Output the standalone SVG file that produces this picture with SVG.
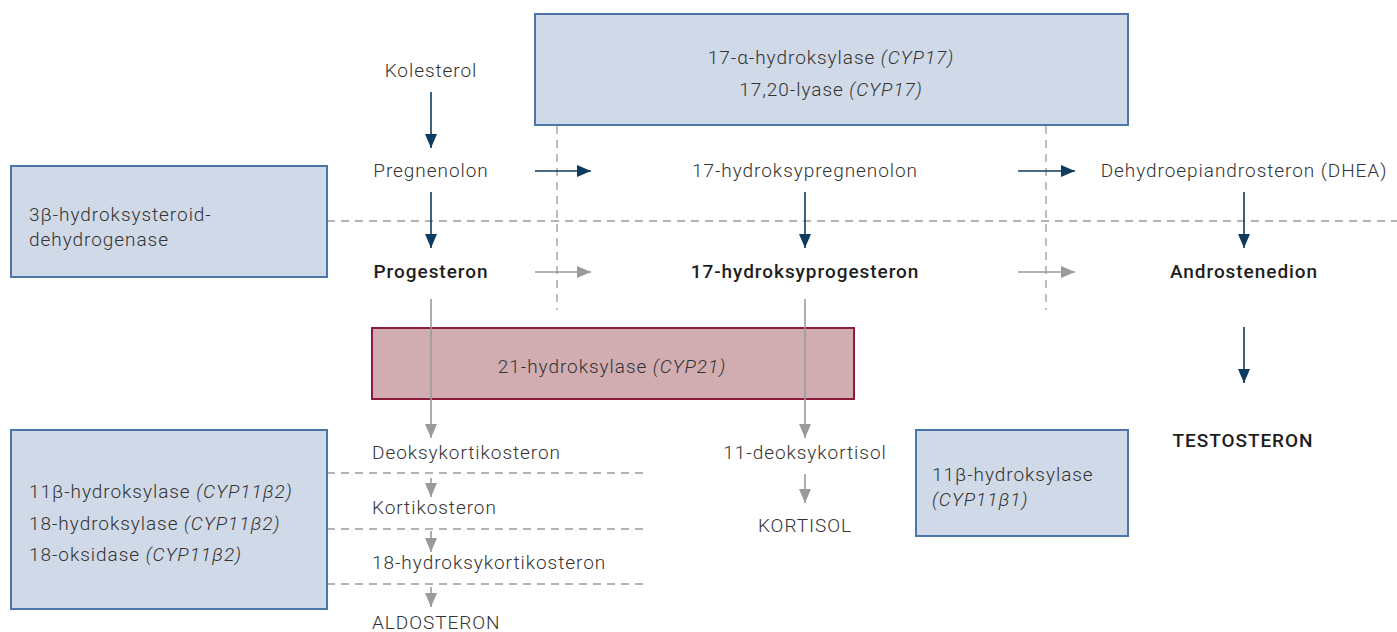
<svg xmlns="http://www.w3.org/2000/svg" width="1397" height="632" viewBox="0 0 1397 632">
<style>
text{font-family:Roboto,"Liberation Sans",sans-serif;font-size:19px;letter-spacing:0.95px;font-weight:300;fill:#333}
.b{font-weight:500;fill:#1e1e1e}
.i{font-style:italic}
.m{text-anchor:middle}
.blue{fill:#cfd9e7;stroke:#4a77a8;stroke-width:2}
.red{fill:#d1adb1;stroke:#8c1b3f;stroke-width:2}
.dash{stroke:#9a9a9a;stroke-width:1.3;stroke-dasharray:8 6;fill:none}
.dk{stroke:#0e3b5e;stroke-width:1.6;fill:none;marker-end:url(#ad)}
.gr{stroke:#9a9a9a;stroke-width:1.6;fill:none;marker-end:url(#ag)}
</style>
<defs>
<marker id="ad" markerUnits="userSpaceOnUse" markerWidth="14" markerHeight="14" refX="14" refY="7" orient="auto"><path d="M0,1 L14,7 L0,13 Z" fill="#0e3b5e"/></marker>
<marker id="ag" markerUnits="userSpaceOnUse" markerWidth="14" markerHeight="14" refX="14" refY="7" orient="auto"><path d="M0,1 L14,7 L0,13 Z" fill="#9a9a9a"/></marker>
</defs>
<rect width="1397" height="632" fill="#fff"/>
<g id="dashes">
<line class="dash" x1="327" y1="221" x2="1397" y2="221"/>
<line class="dash" x1="557" y1="126" x2="557" y2="310"/>
<line class="dash" x1="1046" y1="126" x2="1046" y2="310"/>
<line class="dash" x1="327" y1="473" x2="643" y2="473"/>
<line class="dash" x1="327" y1="529" x2="643" y2="529"/>
<line class="dash" x1="327" y1="584" x2="643" y2="584"/>
</g>
<g id="cyp17"><rect class="blue" x="535" y="14" width="593" height="111"/>
<text class="m" x="831" y="64">17-α-hydroksylase <tspan class="i">(CYP17)</tspan></text>
<text class="m" x="831" y="96">17,20-lyase <tspan class="i">(CYP17)</tspan></text></g>
<g id="hsd"><rect class="blue" x="11" y="166" width="316" height="111"/>
<text x="29" y="221">3β-hydroksysteroid-</text>
<text x="29" y="246">dehydrogenase</text></g>
<g id="cyp21"><rect class="red" x="372" y="328" width="482" height="71"/>
<text class="m" x="612" y="373">21-hydroksylase <tspan class="i">(CYP21)</tspan></text></g>
<g id="cyp11b2"><rect class="blue" x="11" y="430" width="316" height="179"/>
<text x="29" y="498">11β-hydroksylase <tspan class="i">(CYP11β2)</tspan></text>
<text x="29" y="530">18-hydroksylase <tspan class="i">(CYP11β2)</tspan></text>
<text x="29" y="561">18-oksidase <tspan class="i">(CYP11β2)</tspan></text></g>
<g id="cyp11b1"><rect class="blue" x="916" y="430" width="212" height="106"/>
<text x="932" y="481">11β-hydroksylase</text>
<text class="i" x="932" y="506">(CYP11β1)</text></g>
<g id="connectors">
<line class="dk" x1="431" y1="92" x2="431" y2="148"/>
<line class="dk" x1="431" y1="192" x2="431" y2="248"/>
<line class="dk" x1="805" y1="192" x2="805" y2="248"/>
<line class="dk" x1="1244" y1="192" x2="1244" y2="248"/>
<line class="dk" x1="535" y1="171" x2="591" y2="171"/>
<line class="dk" x1="1018" y1="171" x2="1075" y2="171"/>
<line class="gr" x1="535" y1="272" x2="591" y2="272"/>
<line class="gr" x1="1018" y1="272" x2="1075" y2="272"/>
<line class="dk" x1="1244" y1="327" x2="1244" y2="383"/>
<line class="gr" x1="431" y1="299" x2="431" y2="438"/>
<line class="gr" x1="805" y1="299" x2="805" y2="438"/>
<line class="gr" x1="431" y1="478" x2="431" y2="497"/>
<line class="gr" x1="431" y1="531" x2="431" y2="552"/>
<line class="gr" x1="431" y1="587" x2="431" y2="607"/>
<line class="gr" x1="805" y1="474" x2="805" y2="503"/>
</g>
<g id="kolesterol"><text class="m" x="431" y="77">Kolesterol</text></g>
<g id="pregnenolon"><text class="m" x="431" y="177">Pregnenolon</text></g>
<g id="hpreg"><text class="m" x="805" y="177">17-hydroksypregnenolon</text></g>
<g id="dhea"><text class="m" x="1244" y="177">Dehydroepiandrosteron (DHEA)</text></g>
<g id="progesteron"><text class="m b" x="431" y="278">Progesteron</text></g>
<g id="hprog"><text class="m b" x="805" y="278">17-hydroksyprogesteron</text></g>
<g id="andro"><text class="m b" x="1244" y="278">Androstenedion</text></g>
<g id="testo"><text class="m b" x="1243" y="447">TESTOSTERON</text></g>
<g id="doc"><text x="372" y="459">Deoksykortikosteron</text></g>
<g id="kortikosteron"><text x="372" y="514">Kortikosteron</text></g>
<g id="h18"><text x="372" y="569">18-hydroksykortikosteron</text></g>
<g id="aldo"><text x="372" y="629">ALDOSTERON</text></g>
<g id="deoxykortisol"><text class="m" x="805" y="459">11-deoksykortisol</text></g>
<g id="kortisol"><text class="m" x="805" y="532">KORTISOL</text></g>
</svg>
